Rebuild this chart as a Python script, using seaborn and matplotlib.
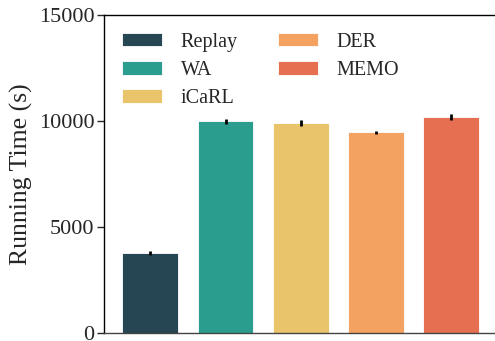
import matplotlib
matplotlib.use("Agg")
import matplotlib.pyplot as plt
import seaborn as sns
import pandas as pd

# Average running time per method and its spread
methods = ["Replay", "WA", "iCaRL", "DER", "MEMO"]
run_time = [3745, 9970, 9890, 9450, 10175]
run_std = [90, 130, 130, 70, 130]
colors = ["#264653", "#2a9d8f", "#e9c46a", "#f4a261", "#e76f51"]
y_ticks = [0, 5000, 10000, 15000]

sns.set_style("ticks")
plt.rcParams["font.family"] = ["Liberation Serif", "DejaVu Serif"]

df = pd.DataFrame({"method": methods, "time": run_time})

fig = plt.figure(figsize=(4.95, 3.41), dpi=100)
ax = fig.add_axes([104 / 495, 8.3 / 341, 391 / 495, 318 / 341])

sns.barplot(data=df, x="method", y="time", hue="method",
            palette=colors, saturation=1, dodge=False, width=0.74,
            errorbar=None, legend=True, edgecolor="white", linewidth=0.6,
            ax=ax)

xpos = ax.get_xticks()
ax.errorbar(xpos, run_time, yerr=run_std, fmt="none", ecolor="black",
            elinewidth=2, capsize=0, zorder=5)

ax.set_xlim(-0.616, 4.584)
ax.set_ylim(0, 15000)
ax.set_yticks(y_ticks)
ax.set_yticklabels([str(t) for t in y_ticks], fontsize=16)
ax.set_xticks([])
ax.set_xlabel("")
ax.set_ylabel("Running Time (s)", fontsize=18.5, labelpad=4)

for side in ["left", "top", "bottom"]:
    ax.spines[side].set_visible(True)
    ax.spines[side].set_color("black")
    ax.spines[side].set_linewidth(1.0)
ax.spines["bottom"].set_color("#444444")
ax.spines["right"].set_visible(False)
ax.tick_params(axis="y", direction="out", length=5, width=1, pad=2)

handles, labels = ax.get_legend_handles_labels()
ax.legend(handles, labels, ncol=2, frameon=False, fontsize=14.5,
          loc="upper left", bbox_to_anchor=(0.0, 1.0),
          handlelength=2.0, handleheight=0.65, handletextpad=0.9,
          columnspacing=2.0, labelspacing=0.45, borderaxespad=0.5)

fig.savefig("out.png", dpi=100)
